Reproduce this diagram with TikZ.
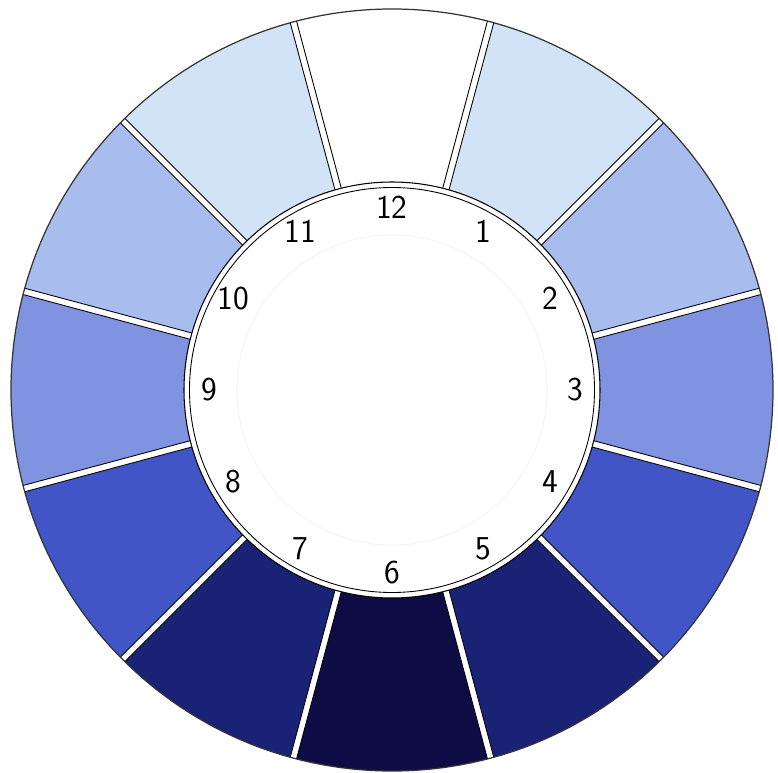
\documentclass[tikz,border=0pt]{standalone}
\usepackage{tikz}
\usepackage{xcolor}

\definecolor{toneA}{HTML}{D2E3F7}
\definecolor{toneB}{HTML}{A8BCEE}
\definecolor{toneC}{HTML}{8093E0}
\definecolor{toneD}{HTML}{4255C6}
\definecolor{toneE}{HTML}{1A2275}
\definecolor{toneF}{HTML}{0D0C45}

\begin{document}
\begin{tikzpicture}
    \useasboundingbox (-7.84,-7.64) rectangle (7.72,7.80);

    % Coloured segments, one per hour
    \foreach \h/\col in {12/white,1/toneA,2/toneB,3/toneC,4/toneD,5/toneE,
                         6/toneF,7/toneE,8/toneD,9/toneC,10/toneB,11/toneA}
        \fill[\col] (0,0) -- ({105-30*\h}:7.62) arc ({105-30*\h}:{75-30*\h}:7.62) -- cycle;

    % White strips between the segments
    \begin{scope}
        \clip (0,0) circle (7.62);
        \foreach \a in {15,45,...,345} {
            \begin{scope}[rotate=\a]
                \fill[white] (4,-0.065) rectangle (7.7,0.065);
                \draw[line width=0.5pt] (4,-0.065) -- (7.7,-0.065) (4,0.065) -- (7.7,0.065);
            \end{scope}
        }
    \end{scope}
    \draw[black!80, line width=0.7pt] (0,0) circle (7.62);

    % Dial in the middle
    \fill[white] (0,0) circle (4.16);
    \draw[line width=0.6pt] (0,0) circle (4.16);
    \draw[line width=0.5pt] (0,0) circle (4.05);
    \draw[black!5] (0,0) circle (3.1);

    % Hour numbers
    \foreach \h in {1,...,12}
        \node[font=\sffamily\fontsize{19}{21}\selectfont] (h\h) at ({90-30*\h}:3.66) {\h};
\end{tikzpicture}
\end{document}
